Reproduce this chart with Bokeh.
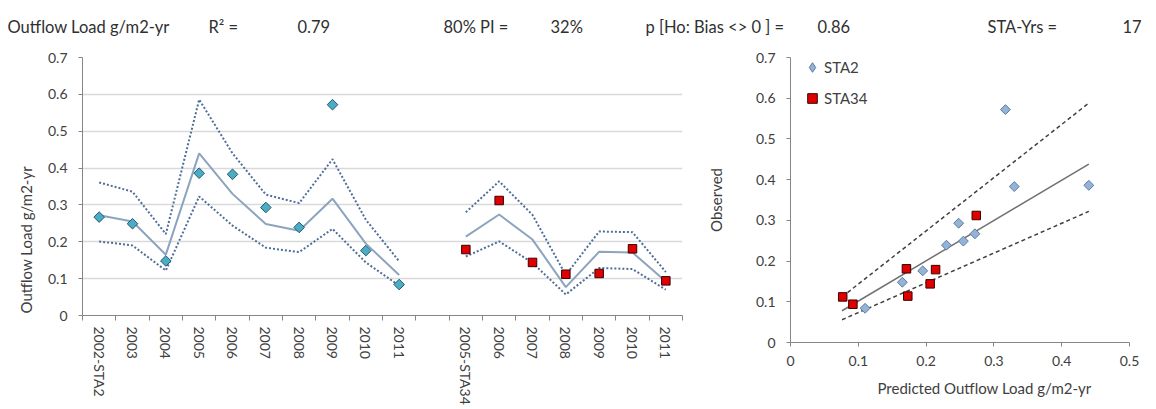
import math
from bokeh.plotting import figure
from bokeh.models import (Range1d, FixedTicker, Title, Legend, LegendItem)
from bokeh.layouts import column, row
from bokeh.embed import file_html
from bokeh.resources import INLINE
from bokeh.core.properties import value

FONT = "Lato"
TXT = "#404040"
AXC = "#868686"

# ---------------- data ----------------
sta2_labels = ["2002-STA2", "2003", "2004", "2005", "2006", "2007", "2008", "2009", "2010", "2011"]
sta2_obs = [0.267, 0.249, 0.148, 0.386, 0.383, 0.293, 0.239, 0.572, 0.176, 0.084]
sta2_pred = [0.272, 0.255, 0.165, 0.440, 0.330, 0.248, 0.230, 0.317, 0.195, 0.110]
sta2_hi = [0.361, 0.336, 0.221, 0.586, 0.440, 0.328, 0.305, 0.424, 0.260, 0.147]
sta2_lo = [0.201, 0.190, 0.122, 0.323, 0.244, 0.184, 0.172, 0.235, 0.144, 0.081]

sta34_labels = ["2005-STA34", "2006", "2007", "2008", "2009", "2010", "2011"]
sta34_obs = [0.179, 0.312, 0.144, 0.112, 0.114, 0.181, 0.094]
sta34_pred = [0.214, 0.274, 0.206, 0.077, 0.173, 0.171, 0.092]
sta34_hi = [0.280, 0.364, 0.273, 0.110, 0.228, 0.226, 0.118]
sta34_lo = [0.160, 0.201, 0.143, 0.057, 0.129, 0.126, 0.070]

fit_x = [0.076, 0.440]
fit_y = [0.078, 0.438]
fit_hi = [0.112, 0.588]
fit_lo = [0.056, 0.322]

y_ticks = [0, 0.1, 0.2, 0.3, 0.4, 0.5, 0.6, 0.7]
y_tick_labels = ["0", "0.1", "0.2", "0.3", "0.4", "0.5", "0.6", "0.7"]
x_ticks = [0, 0.1, 0.2, 0.3, 0.4, 0.5]
x_tick_labels = ["0", "0.1", "0.2", "0.3", "0.4", "0.5"]

header_texts = ["Outflow Load  g/m2-yr", "R\u00b2 =", "0.79", "80% PI =", "32%",
                "p [Ho: Bias <> 0 ] =", "0.86", "STA-Yrs =", "17"]

# ---------------- header ----------------
head = figure(width=1144, height=36, x_range=Range1d(0, 1144), y_range=Range1d(36, 0),
              toolbar_location=None, output_backend="svg", min_border=0)
head.axis.visible = False
head.grid.visible = False
head.outline_line_color = None
head_x = [7, 208, 297, 443, 550, 645, 817, 987, 1122]
head.text(x=head_x, y=[26] * len(header_texts), text=header_texts,
          text_font=value(FONT), text_font_size="16.5px", text_color="#303030",
          text_baseline="alphabetic", text_align="left")

# ---------------- left time-series chart ----------------
n2 = len(sta2_labels)
n34 = len(sta34_labels)
n_cat = n2 + 1 + n34
x2 = [i + 0.5 for i in range(n2)]
x34 = [n2 + 1 + i + 0.5 for i in range(n34)]

left = figure(frame_width=600, frame_height=258, x_range=Range1d(0, n_cat), y_range=Range1d(0, 0.7),
              toolbar_location=None, output_backend="svg",
              min_border_left=82, min_border_right=18, min_border_top=20, min_border_bottom=95)
left.outline_line_color = None
left.xgrid.visible = False
left.ygrid.ticker = FixedTicker(ticks=y_ticks)
left.ygrid.grid_line_color = "#D9D9D9"
left.ygrid.grid_line_width = 1.5

for xs, pred, hi, lo, obs, kind in [(x2, sta2_pred, sta2_hi, sta2_lo, sta2_obs, "d"),
                                    (x34, sta34_pred, sta34_hi, sta34_lo, sta34_obs, "s")]:
    left.line(xs, hi, line_color="#4F6D9A", line_width=2, line_dash="2 2")
    left.line(xs, lo, line_color="#4F6D9A", line_width=2, line_dash="2 2")
    left.line(xs, pred, line_color="#8DA4BE", line_width=2)
    if kind == "d":
        left.scatter(xs, obs, marker="square", angle=math.pi / 4, size=7.5,
                     fill_color="#4BACC6", line_color="#24596B", line_width=1)
    else:
        left.scatter(xs, obs, marker="square", size=8.5,
                     fill_color="#E00000", line_color="#3A0000", line_width=1)

xa = left.xaxis[0]
xa.ticker = FixedTicker(ticks=x2 + x34, minor_ticks=list(range(n_cat + 1)))
xa.major_label_overrides = {x: lab for x, lab in zip(x2 + x34, sta2_labels + sta34_labels)}
xa.major_label_orientation = -math.pi / 2
xa.major_tick_out = 0
xa.major_tick_in = 0
xa.minor_tick_out = 5
xa.minor_tick_in = 0
xa.major_label_standoff = 6
xa.axis_line_color = AXC
xa.minor_tick_line_color = AXC
xa.major_label_text_font = FONT
xa.major_label_text_font_size = "14px"
xa.major_label_text_color = TXT

ya = left.yaxis[0]
ya.ticker = FixedTicker(ticks=y_ticks)
ya.major_label_overrides = {t: s for t, s in zip(y_ticks, y_tick_labels)}
ya.major_tick_out = 4
ya.major_tick_in = 0
ya.minor_tick_out = 0
ya.minor_tick_in = 0
ya.major_label_standoff = 11
ya.axis_line_color = AXC
ya.major_tick_line_color = AXC
ya.major_label_text_font = FONT
ya.major_label_text_font_size = "14px"
ya.major_label_text_color = TXT

left.add_layout(Title(text="Outflow Load  g/m2-yr", align="left", offset=2,
                      text_font=FONT, text_font_size="15px", text_font_style="normal",
                      text_color=TXT, standoff=20), "left")

# ---------------- right scatter chart ----------------
right = figure(frame_width=339, frame_height=285, x_range=Range1d(0, 0.5), y_range=Range1d(0, 0.7),
               toolbar_location=None, output_backend="svg",
               min_border_left=90, min_border_right=15, min_border_top=21, min_border_bottom=67)
right.outline_line_color = None
right.grid.visible = False

right.line(fit_x, fit_hi, line_color="#404040", line_width=1.5, line_dash="4 3")
right.line(fit_x, fit_lo, line_color="#404040", line_width=1.5, line_dash="4 3")
right.line(fit_x, fit_y, line_color="#707070", line_width=1.5)
right.scatter(sta2_pred, sta2_obs, marker="square", angle=math.pi / 4, size=7,
              fill_color="#95B3D7", line_color="#5B7BA0", line_width=1)
r34 = right.scatter(sta34_pred, sta34_obs, marker="square", size=8.5,
                    fill_color="#E00000", line_color="#3A0000", line_width=1)
# legend-only proxy for the diamond symbol (NaN point: draws nothing in the plot)
r2_leg = right.scatter(x=[float("nan")], y=[float("nan")], marker="diamond", size=11,
                       fill_color="#95B3D7", line_color="#5B7BA0", line_width=1)

legend = Legend(items=[LegendItem(label="STA2", renderers=[r2_leg]),
                       LegendItem(label="STA34", renderers=[r34])],
                location=(10, 232), border_line_color=None, background_fill_alpha=0,
                padding=0, margin=0, spacing=7, glyph_width=24, glyph_height=24,
                label_height=24, label_standoff=0, label_text_font=FONT,
                label_text_font_size="15px", label_text_color=TXT)
right.add_layout(legend)

rx = right.xaxis[0]
rx.ticker = FixedTicker(ticks=x_ticks)
rx.major_label_overrides = {t: s for t, s in zip(x_ticks, x_tick_labels)}
ry = right.yaxis[0]
ry.ticker = FixedTicker(ticks=y_ticks)
ry.major_label_overrides = {t: s for t, s in zip(y_ticks, y_tick_labels)}
for ax in (rx, ry):
    ax.major_tick_out = 4
    ax.major_tick_in = 0
    ax.minor_tick_out = 0
    ax.minor_tick_in = 0
    ax.major_label_standoff = 11
    ax.axis_line_color = AXC
    ax.major_tick_line_color = AXC
    ax.major_label_text_font = FONT
    ax.major_label_text_font_size = "14px"
    ax.major_label_text_color = TXT
rx.major_label_standoff = 9
ry.axis_label = "Observed"
ry.axis_label_standoff = 28
ry.axis_label_text_font = FONT
ry.axis_label_text_font_size = "15px"
ry.axis_label_text_font_style = "normal"
ry.axis_label_text_color = TXT

right.add_layout(Title(text="Predicted Outflow Load  g/m2-yr", align="left", offset=87,
                       text_font=FONT, text_font_size="15px", text_font_style="normal",
                       text_color=TXT, standoff=16), "below")

layout = column(head, row(left, right))
open("out.html", "w").write(file_html(layout, INLINE))
